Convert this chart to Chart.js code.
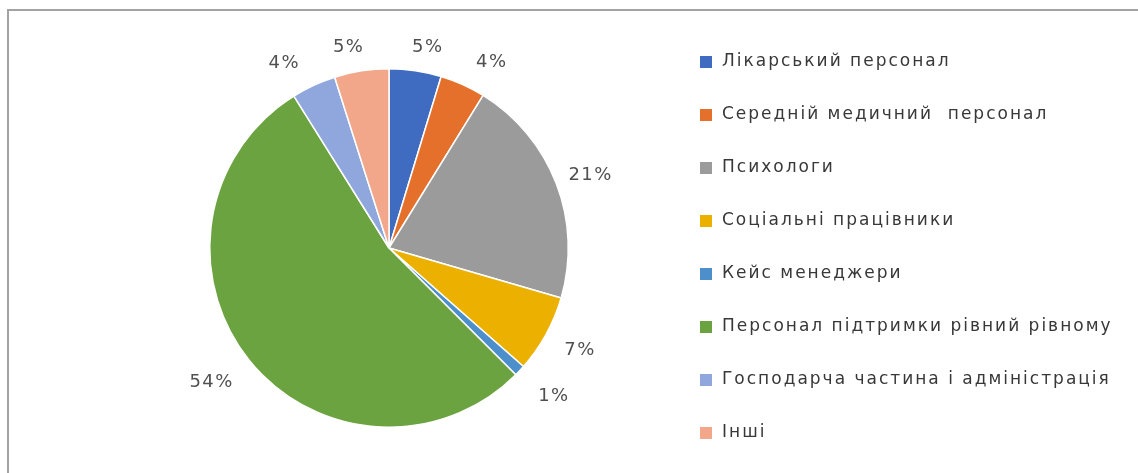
<!DOCTYPE html>
<html>
<head>
<meta charset="utf-8">
<script src="https://cdn.jsdelivr.net/npm/chart.js@4/dist/chart.umd.min.js"></script>
<style>
  html, body { margin: 0; padding: 0; background: #fff; }
  #wrap { position: relative; width: 1138px; height: 473px; overflow: hidden; }
  #frame {
    position: absolute; left: 7px; top: 9px; right: -10px; bottom: -10px;
    border-top: 2px solid #a3a3a3; border-left: 2px solid #a3a3a3;
  }
  #chart { position: absolute; left: 0; top: 0; }
  #legend {
    position: absolute; left: 700px; top: 50px;
    list-style: none; margin: 0; padding: 0;
    font-family: "DejaVu Sans", sans-serif; font-size: 17px; letter-spacing: 2px;
    color: #383838;
  }
  #legend li { height: 53px; display: flex; align-items: flex-start; white-space: pre; }
  #legend span.box { width: 12px; height: 12px; margin: 6px 10px 0 0; flex: none; }
</style>
</head>
<body>
<div id="wrap">
  <div id="frame"></div>
  <canvas id="chart" width="1138" height="473"></canvas>
  <ul id="legend"></ul>
</div>
<script>
// Categories and shares (percent of staff)
const categories = [
    'Лікарський персонал',
    'Середній медичний  персонал',
    'Психологи',
    'Соціальні працівники',
    'Кейс менеджери',
    'Персонал підтримки рівний рівному',
    'Господарча частина і адміністрація',
    'Інші'
];
const shares = [4.7, 4.1, 20.7, 7.0, 1.0, 53.6, 4.0, 4.9];
const colors = ['#3f6bc0', '#e5702c', '#9b9b9b', '#ebb000', '#4c8fcb', '#6aa33f', '#8fa7dc', '#f2a68a'];

// Percentage labels drawn just outside each slice (spread sideways near the top, like Excel)
const outsideLabels = {
    id: 'outsideLabels',
    afterDatasetsDraw(chart) {
        const ctx = chart.ctx;
        const meta = chart.getDatasetMeta(0);
        const total = shares.reduce((a, b) => a + b, 0);
        ctx.save();
        ctx.font = '18px "DejaVu Sans", sans-serif';
        ctx.fillStyle = '#505050';
        ctx.textAlign = 'center';
        ctx.textBaseline = 'middle';
        if ('letterSpacing' in ctx) ctx.letterSpacing = '1.5px';
        meta.data.forEach(function(arc, i) {
            const p = arc.getProps(['x', 'y', 'startAngle', 'endAngle', 'outerRadius'], true);
            const mid = (p.startAngle + p.endAngle) / 2;
            const dx = Math.cos(mid), dy = Math.sin(mid);
            const text = Math.round(shares[i] / total * 100) + '%';
            const gx = 36 + 50 * Math.pow(dy, 4) + 8 * Math.max(-dx, 0) * Math.max(dy, 0);
            const gy = 24 + 20 * Math.max(dy, 0);
            ctx.fillText(text, p.x + dx * (p.outerRadius + gx), p.y + dy * (p.outerRadius + gy));
        });
        ctx.restore();
    }
};

document.addEventListener('DOMContentLoaded', function() {
    const chart = new Chart(document.getElementById('chart'), {
        type: 'pie',
        data: {
            labels: categories,
            datasets: [{
                data: shares,
                backgroundColor: colors,
                borderColor: '#ffffff',
                borderWidth: 1.5
            }]
        },
        options: {
            responsive: false,
            animation: false,
            layout: { padding: { left: 0, right: 360, top: 68, bottom: 45 } },
            plugins: {
                legend: { display: false },
                tooltip: { enabled: false }
            }
        },
        plugins: [outsideLabels]
    });

    const legend = document.getElementById('legend');
    categories.forEach(function(name, i) {
        legend.insertAdjacentHTML('beforeend',
            `<li><span class="box" style="background:${colors[i]}"></span>${name}</li>`);
    });
});
</script>
</body>
</html>
